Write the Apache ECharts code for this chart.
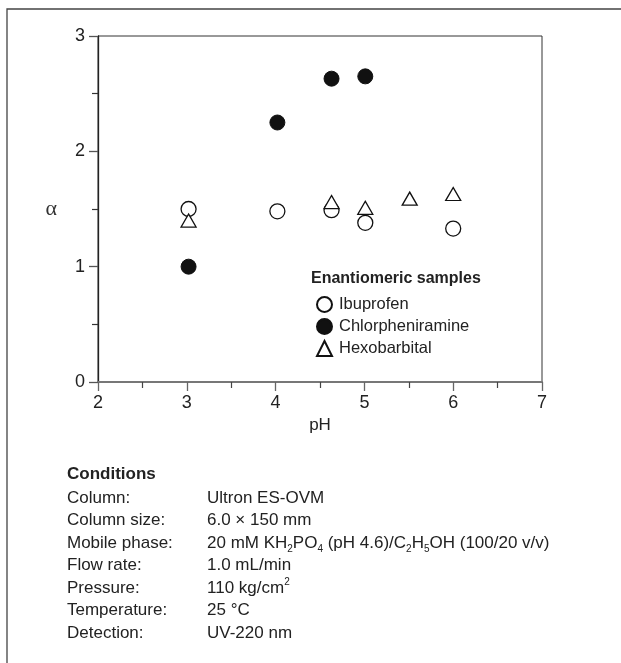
<!DOCTYPE html>
<html>
<head>
<meta charset="utf-8">
<script src="https://cdn.jsdelivr.net/npm/echarts@6/dist/echarts.min.js"></script>
<style>
html,body{margin:0;padding:0;background:#fff;}
#c{width:621px;height:663px;}
</style>
</head>
<body>
<div id="c"></div>
<script>
// ---- data ----
var phIbuprofen = [3.02, 4.02, 4.63, 5.01, 6.0];
var alphaIbuprofen = [1.50, 1.48, 1.49, 1.38, 1.33];
var phChlor = [3.02, 4.02, 4.63, 5.01];
var alphaChlor = [1.00, 2.25, 2.63, 2.65];
var phHexo = [3.02, 4.63, 5.01, 5.51, 6.0];
var alphaHexo = [1.40, 1.56, 1.51, 1.59, 1.63];
var seriesNames = ['Ibuprofen', 'Chlorpheniramine', 'Hexobarbital'];
var legendTitle = 'Enantiomeric samples';
var xName = 'pH';
var yName = '\u03b1';
var condTitle = 'Conditions';
var condLabels = ['Column:', 'Column size:', 'Mobile phase:', 'Flow rate:', 'Pressure:', 'Temperature:', 'Detection:'];
var condValues = [
  'Ultron ES-OVM',
  '6.0 \u00d7 150 mm',
  '20 mM KH{s|2}PO{s|4} (pH 4.6)/C{s|2}H{s|5}OH (100/20 v/v)',
  '1.0 mL/min',
  '110 kg/cm{p|2}',
  '25 \u00b0C',
  'UV-220 nm'
];

function zip(a, b) { return a.map(function (v, i) { return [v, b[i]]; }); }

var FONT = '"Liberation Sans", Arial, sans-serif';
var TXT = '#222';

var graphics = [
  { type: 'polyline', shape: { points: [[7, 663], [7, 9], [621, 9]] },
    style: { stroke: '#444', lineWidth: 1.3, fill: null } },
  { type: 'text', x: 311, y: 279,
    style: { text: legendTitle, font: 'bold 16px ' + FONT, fill: TXT, verticalAlign: 'middle' } },
  { type: 'text', left: 67, top: 466,
    style: { text: condTitle, font: 'bold 17px ' + FONT, fill: TXT } }
];
var rowY = [498, 520.5, 543, 565.5, 588, 610.5, 633];
condLabels.forEach(function (lab, i) {
  graphics.push({ type: 'text', x: 67, y: rowY[i],
    style: { text: lab, font: '17px ' + FONT, fill: TXT, verticalAlign: 'middle' } });
  graphics.push({ type: 'text', x: 207, y: rowY[i],
    style: { text: condValues[i], fontFamily: FONT, fontSize: 17, fill: TXT, verticalAlign: 'middle',
      lineHeight: 22,
      rich: {
        s: { fontSize: 10, fontFamily: FONT, fill: TXT, lineHeight: 10, verticalAlign: 'bottom' },
        p: { fontSize: 10, fontFamily: FONT, fill: TXT, lineHeight: 10, verticalAlign: 'top' }
      } } });
});

var chart = echarts.init(document.getElementById('c'), null, { renderer: 'canvas' });
chart.setOption({
  animation: false,
  backgroundColor: '#fff',
  grid: { left: 98, right: 79, top: 36, bottom: 281, show: true, borderColor: '#333', borderWidth: 1 },
  xAxis: {
    type: 'value', min: 2, max: 7, interval: 1,
    name: xName, nameLocation: 'middle', nameGap: 18,
    nameTextStyle: { fontFamily: FONT, fontSize: 17, color: TXT, verticalAlign: 'top' },
    axisLine: { lineStyle: { color: '#777', width: 2 } },
    axisTick: { length: 9, lineStyle: { color: '#666', width: 1.3 } },
    minorTick: { show: true, splitNumber: 2, length: 6, lineStyle: { color: '#444', width: 1.2 } },
    axisLabel: { margin: 12, fontFamily: FONT, fontSize: 18, color: TXT },
    splitLine: { show: false }
  },
  yAxis: {
    type: 'value', min: 0, max: 3, interval: 1,
    name: yName, nameLocation: 'middle', nameGap: 41, nameRotate: 0,
    nameTextStyle: { fontFamily: '"Liberation Serif", "DejaVu Serif", serif', fontSize: 22, color: '#333', padding: [0, 0, 5, 0] },
    axisLine: { lineStyle: { color: '#222', width: 1.3 } },
    axisTick: { length: 9, lineStyle: { color: '#555', width: 1.3 } },
    minorTick: { show: true, splitNumber: 2, length: 6, lineStyle: { color: '#333', width: 1.2 } },
    axisLabel: { margin: 13, fontFamily: FONT, fontSize: 18, color: TXT },
    splitLine: { show: false }
  },
  legend: {
    orient: 'vertical', left: 311, top: 291, itemWidth: 15, itemHeight: 15, itemGap: 5,
    textStyle: { fontFamily: FONT, fontSize: 16.5, color: TXT, padding: [0, 0, 0, 2] },
    data: seriesNames
  },
  series: [
    { name: seriesNames[0], type: 'scatter', symbol: 'circle', symbolSize: 15,
      itemStyle: { color: '#fff', borderColor: '#111', borderWidth: 1.3, opacity: 1 },
      data: zip(phIbuprofen, alphaIbuprofen), z: 3 },
    { name: seriesNames[1], type: 'scatter', symbol: 'circle', symbolSize: 15,
      itemStyle: { color: '#111', borderColor: '#111', borderWidth: 1, opacity: 1 },
      data: zip(phChlor, alphaChlor), z: 2 },
    { name: seriesNames[2], type: 'scatter', symbol: 'triangle', symbolSize: [15, 13],
      itemStyle: { color: '#fff', borderColor: '#111', borderWidth: 1.3, opacity: 1 },
      data: zip(phHexo, alphaHexo), z: 4 }
  ],
  graphic: graphics
});
</script>
</body>
</html>
